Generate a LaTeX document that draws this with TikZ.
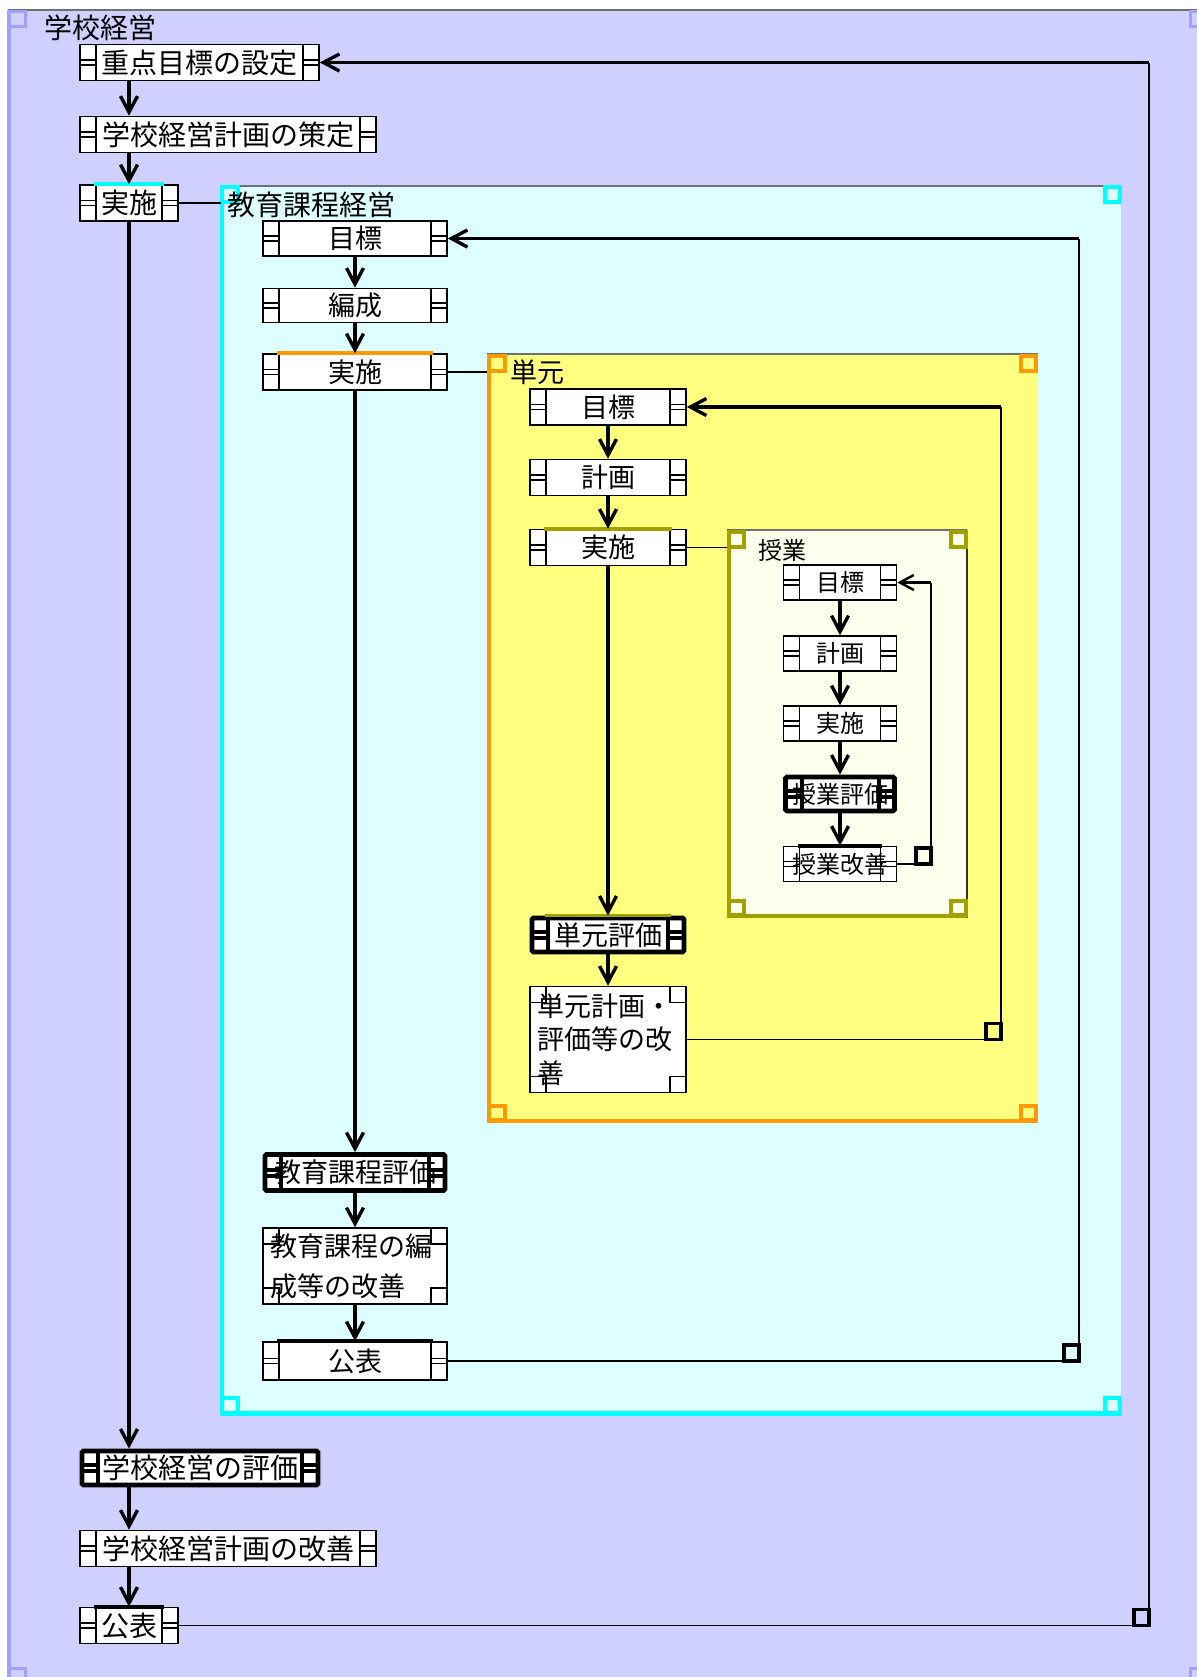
\documentclass[tikz,border=0pt]{standalone}
\usepackage{fontspec}
\setmainfont{Noto Sans CJK JP}
\usetikzlibrary{arrows.meta,calc}
\definecolor{outerfill}{HTML}{D0D0FF}
\definecolor{outerline}{HTML}{A0A0FF}
\definecolor{cyanfill}{HTML}{DDFFFF}
\definecolor{cyanline}{HTML}{00FFFF}
\definecolor{yelfill}{HTML}{FFFF80}
\definecolor{orangeline}{HTML}{FF9900}
\definecolor{olivefill}{HTML}{FFFFEE}
\definecolor{oliveline}{HTML}{A0A000}
\definecolor{topgray}{HTML}{707070}
\newcommand\fszA{\fontsize{14pt}{16pt}\selectfont}
\newcommand\fszB{\fontsize{13.5pt}{16pt}\selectfont}
\newcommand\fszC{\fontsize{12pt}{14pt}\selectfont}
\tikzset{
  box/.style={draw=black, fill=white, line width=0.8pt, inner sep=0pt, minimum height=18pt,
    path picture={\draw[line width=0.8pt]
      ([xshift=8pt]path picture bounding box.north west) -- ([xshift=8pt]path picture bounding box.south west)
      ([xshift=-8pt]path picture bounding box.north east) -- ([xshift=-8pt]path picture bounding box.south east)
      ([yshift=1.2pt]path picture bounding box.west) -- ++(8pt,0pt)
      ([yshift=-1.2pt]path picture bounding box.west) -- ++(8pt,0pt)
      ([yshift=1.2pt]path picture bounding box.east) -- ++(-8pt,0pt)
      ([yshift=-1.2pt]path picture bounding box.east) -- ++(-8pt,0pt);}},
  thickbox/.style={draw=black, fill=white, line width=2.4pt, inner sep=0pt, minimum height=17pt,
    rounded corners=0.8pt,
    path picture={\draw[line width=2pt, sharp corners]
      ([xshift=8pt]path picture bounding box.north west) -- ([xshift=8pt]path picture bounding box.south west)
      ([xshift=-8pt]path picture bounding box.north east) -- ([xshift=-8pt]path picture bounding box.south east)
      ([yshift=1.5pt]path picture bounding box.west) -- ++(8pt,0pt)
      ([yshift=-1.5pt]path picture bounding box.west) -- ++(8pt,0pt)
      ([yshift=1.5pt]path picture bounding box.east) -- ++(-8pt,0pt)
      ([yshift=-1.5pt]path picture bounding box.east) -- ++(-8pt,0pt);}},
  cornerbox/.style={draw=black, fill=white, line width=0.8pt, inner xsep=3.5pt, inner ysep=0pt, align=left,
    path picture={\draw[line width=0.8pt]
      (path picture bounding box.north west) rectangle ++(8pt,-8pt)
      (path picture bounding box.north east) rectangle ++(-8pt,-8pt)
      (path picture bounding box.south west) rectangle ++(8pt,8pt)
      (path picture bounding box.south east) rectangle ++(-8pt,8pt);}},
  lbl/.style={anchor=west, inner sep=0pt},
  arr/.style={line width=1.7pt, -{Straight Barb[length=8pt,width=8.5pt]}},
  fbarr/.style={line width=1.7pt, -{Straight Barb[length=8pt,width=8.5pt]}},
  fbthin/.style={line width=0.9pt},
  fbvert/.style={line width=0.6pt},
  linkline/.style={line width=0.7pt},
  marker/.style={line width=1.7pt},
  topline/.style={line width=1.8pt},
}
\begin{document}
\begin{tikzpicture}[x=0.5pt,y=-0.5pt]
\useasboundingbox (0,0) rectangle (1197,1677);
\clip (0,0) rectangle (1197,1677);
\fill[white] (0,0) rectangle (1197,1677);

% outer container
\fill[outerfill] (8,10) rectangle (1206,1684);
\draw[topgray, line width=0.6pt] (8,10) -- (1206,10);
\draw[outerline, line width=1.8pt] (9,10) -- (9,1684);
\draw[outerline, line width=1.5pt] (9,11) rectangle (25,26) (1190,11) rectangle (1206,26)
  (9,1668) rectangle (25,1683) (1190,1668) rectangle (1206,1683);
\node[lbl, font=\fszA] (L1) at (44,28) {学校経営};

% cyan container
\coordinate (cyanNW) at (221,186);
\fill[cyanfill] (221,186) rectangle (1121,1415);
\draw[topgray, line width=0.6pt] (221,186) -- (1121,186);
\draw[cyanline, line width=2.1pt] (222,186) -- (222,1415) (221,1413.5) -- (1121,1413.5);
\draw[cyanline, line width=1.6pt] (222,187) rectangle (238,202) (1105,187) rectangle (1120,202)
  (222,1398) rectangle (238,1413) (1105,1398) rectangle (1120,1413);
\node[lbl, font=\fszA] (L2) at (227,205) {教育課程経営};

% yellow container
\coordinate (yelNW) at (487,354);
\fill[yelfill] (487,354) rectangle (1038,1123);
\draw[topgray, line width=0.6pt] (487,354) -- (1038,354);
\draw[orangeline, line width=2.3pt] (489,354) -- (489,1123) (487,1121) -- (1038,1121);
\draw[orangeline, line width=1.8pt] (489,356) rectangle (505,371) (1021,356) rectangle (1036,371)
  (489,1106) rectangle (505,1120) (1021,1106) rectangle (1036,1120);
\node[lbl, font=\fszB] (L3) at (510,372) {単元};

% olive container
\coordinate (oliNW) at (727,530);
\fill[olivefill] (727,530) rectangle (967,918);
\draw[topgray, line width=0.6pt] (727,530) -- (967,530);
\draw[black!80, line width=0.6pt] (967,530) -- (967,918);
\draw[oliveline, line width=2.1pt] (729,530) -- (729,918) (727,916) -- (967,916);
\draw[oliveline, line width=1.6pt] (729,532) rectangle (744,547) (951,532) rectangle (966,547)
  (729,901) rectangle (744,915) (951,901) rectangle (966,915);
\node[lbl, font=\fszC] (L4) at (758,550) {授業};

% level 1 nodes
\node[box, font=\fszA, minimum width=119.5pt] (n1) at (199.5,62.5) {重点目標の設定};
\node[box, font=\fszA, minimum width=148pt] (n2) at (228,134.5) {学校経営計画の策定};
\node[box, font=\fszA, minimum width=49pt] (n3) at (129,203) {実施};
\node[thickbox, font=\fszA, minimum width=118pt] (n4) at (200,1468) {学校経営の評価};
\node[box, font=\fszA, minimum width=148pt] (n5) at (228,1548.5) {学校経営計画の改善};
\node[box, font=\fszA, minimum width=49pt] (n6) at (129,1625.5) {公表};

% level 2 nodes
\node[box, font=\fszB, minimum width=92pt, minimum height=17.5pt] (m1) at (355,238.5) {目標};
\node[box, font=\fszB, minimum width=92pt, minimum height=17pt] (m2) at (355,305.5) {編成};
\node[box, font=\fszB, minimum width=92pt] (m3) at (355,372) {実施};
\node[thickbox, font=\fszB, minimum width=90pt, minimum height=18pt] (m4) at (355,1172.5) {教育課程評価};
\node[cornerbox, font=\fontsize{13.5pt}{20pt}\selectfont, text width=85pt, minimum height=38pt] (m5) at (355,1266) {教育課程の編\\成等の改善};
\node[box, font=\fszB, minimum width=92pt, minimum height=19pt] (m6) at (355,1361) {公表};

% level 3 nodes
\node[box, font=\fszB, minimum width=78pt] (u1) at (608,407) {目標};
\node[box, font=\fszB, minimum width=78pt] (u2) at (608,477.5) {計画};
\node[box, font=\fszB, minimum width=78pt] (u3) at (608,547.5) {実施};
\node[thickbox, font=\fszB, minimum width=76pt] (u4) at (608,935) {単元評価};
\node[cornerbox, font=\fontsize{13.5pt}{16.8pt}\selectfont, text width=71pt, minimum height=53pt] (u5) at (608,1039.5) {単元計画・\\評価等の改\\善};

% level 4 nodes
\node[box, font=\fszC, minimum width=56.5pt, minimum height=17.5pt] (t1) at (840,582.5) {目標};
\node[box, font=\fszC, minimum width=56.5pt, minimum height=17.5pt] (t2) at (840,653.5) {計画};
\node[box, font=\fszC, minimum width=56.5pt, minimum height=17.5pt] (t3) at (840,723.5) {実施};
\node[thickbox, font=\fszC, minimum width=54.5pt, minimum height=17pt] (t4) at (840,794) {授業評価};
\node[box, font=\fszC, minimum width=56.5pt, minimum height=17.5pt] (t5) at (840,864) {授業改善};

% coloured / thick top lines
\draw[cyanline, topline] ([xshift=7.5pt]n3.north west) -- ([xshift=-7.5pt]n3.north east);
\draw[orangeline, topline] ([xshift=7.5pt]m3.north west) -- ([xshift=-7.5pt]m3.north east);
\draw[oliveline, topline] ([xshift=7.5pt]u3.north west) -- ([xshift=-7.5pt]u3.north east);
\draw[oliveline, topline] ([xshift=7.5pt]u4.north west) -- ([xshift=-7.5pt]u4.north east);
\draw[black, topline] ([xshift=7.5pt]m6.north west) -- ([xshift=-7.5pt]m6.north east);
\draw[black, topline] ([xshift=7.5pt]n6.north west) -- ([xshift=-7.5pt]n6.north east);
\draw[black, topline] ([xshift=7.5pt]t5.north west) -- ([xshift=-7.5pt]t5.north east);

% links to sub-containers
\draw[linkline] (n3.east) -- (n3.east -| cyanNW);
\draw[linkline] (m3.east) -- (m3.east -| yelNW);
\draw[linkline] (u3.east) -- (u3.east -| oliNW);

% vertical arrows level 1
\draw[arr] (n1.south -| n3) -- (n2.north -| n3);
\draw[arr] (n2.south -| n3) -- (n3.north);
\draw[arr] (n3.south) -- (n4.north -| n3);
\draw[arr] (n4.south -| n3) -- (n5.north -| n3);
\draw[arr] (n5.south -| n3) -- (n6.north);

% level 2
\draw[arr] (m1.south) -- (m2.north);
\draw[arr] (m2.south) -- (m3.north);
\draw[arr] (m3.south) -- (m4.north);
\draw[arr] (m4.south) -- (m5.north);
\draw[arr] (m5.south) -- (m6.north);

% level 3
\draw[arr] (u1.south) -- (u2.north);
\draw[arr] (u2.south) -- (u3.north);
\draw[arr] (u3.south) -- (u4.north);
\draw[arr] (u4.south) -- (u5.north);

% level 4
\draw[arr] (t1.south) -- (t2.north);
\draw[arr] (t2.south) -- (t3.north);
\draw[arr] (t3.south) -- (t4.north);
\draw[arr] (t4.south) -- (t5.north);

% feedback loops
\coordinate (f1) at (1149,1625.5);
\draw[fbthin] (n6.east) -- (f1);
\draw[fbvert] (f1) -- (f1 |- n1.east);
\draw[fbarr] (f1 |- n1.east) -- (n1.east);
\draw[marker] (f1) rectangle ++(-15,-16);

\coordinate (f2) at (1079,1361);
\draw[fbthin] (m6.east) -- (f2);
\draw[fbvert] (f2) -- (f2 |- m1.east);
\draw[fbarr] (f2 |- m1.east) -- (m1.east);
\draw[marker] (f2) rectangle ++(-15,-16);

\coordinate (f3) at (1001,1039.5);
\draw[fbvert] (u5.east) -- (f3);
\draw[fbvert] (f3) -- (f3 |- u1.east);
\draw[fbarr] (f3 |- u1.east) -- (u1.east);
\draw[marker] (f3) rectangle ++(-15,-16);

\coordinate (f4) at (931,864);
\draw[fbvert] (t5.east) -- (f4);
\draw[fbvert] (f4) -- (f4 |- t1.east);
\draw[line width=1.2pt, -{Straight Barb[length=7pt,width=7.5pt]}] (f4 |- t1.east) -- (t1.east);
\draw[marker] (f4) rectangle ++(-15,-16);
\end{tikzpicture}
\end{document}
